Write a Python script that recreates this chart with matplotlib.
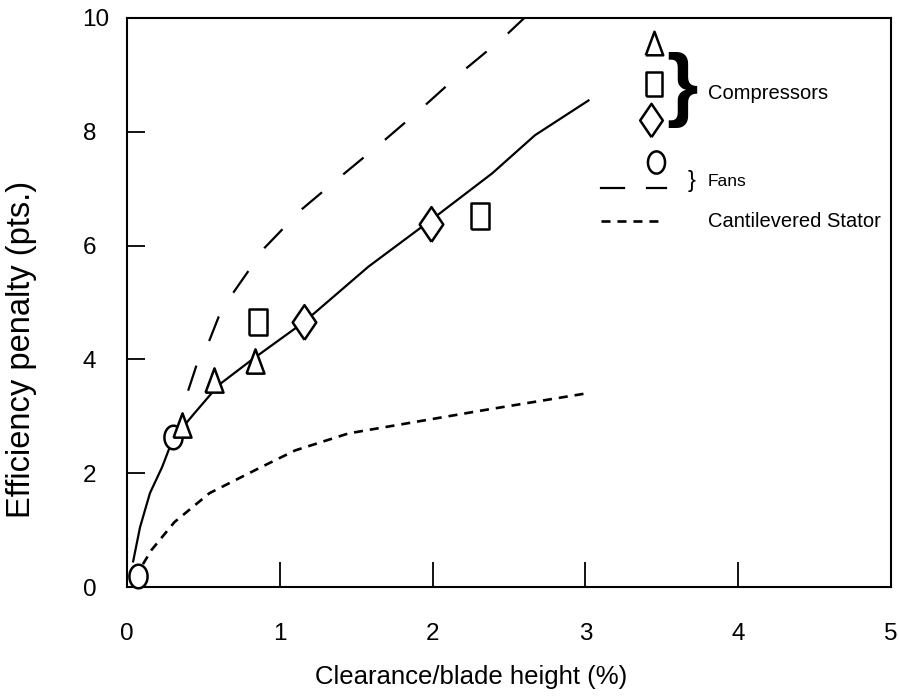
import matplotlib
matplotlib.use("Agg")
import matplotlib.pyplot as plt
import numpy as np

plt.rcParams['font.family'] = ['Liberation Sans', 'DejaVu Sans']
plt.rcParams['lines.scale_dashes'] = False

# measured points
fan_x = [0.07, 0.30]
fan_y = [0.19, 2.63]
tri_x = [0.36, 0.57, 0.84]
tri_y = [2.85, 3.64, 3.98]
sq_x = [0.86, 2.31]
sq_y = [4.65, 6.52]
dia_x = [1.16, 1.99]
dia_y = [4.66, 6.38]

# fitted curves
comp_x = [0.04, 0.085, 0.15, 0.23, 0.30, 0.44, 0.60, 0.82, 1.16, 1.58, 1.99, 2.39, 2.67, 3.02]
comp_y = [0.45, 1.05, 1.65, 2.11, 2.60, 3.05, 3.55, 4.00, 4.66, 5.63, 6.45, 7.27, 7.94, 8.55]
fanline_x = [0.40, 0.46, 0.54, 0.60, 0.70, 0.90, 1.14, 1.41, 1.68, 1.94, 2.20, 2.47, 2.60]
fanline_y = [3.45, 3.94, 4.34, 4.75, 5.19, 5.96, 6.63, 7.24, 7.84, 8.44, 9.07, 9.67, 10.0]
stator_x = [0.05, 0.16, 0.31, 0.54, 0.88, 1.10, 1.45, 2.34, 3.00]
stator_y = [0.16, 0.65, 1.14, 1.65, 2.11, 2.40, 2.70, 3.11, 3.40]

x_ticks = [0, 1, 2, 3, 4, 5]
y_ticks = [0, 2, 4, 6, 8, 10]

# tall, narrow marker shapes
tri_m = [(-0.74, -1), (0.74, -1), (0, 1), (-0.74, -1)]
sq_m = [(-0.68, -1), (0.68, -1), (0.68, 1), (-0.68, 1), (-0.68, -1)]
dia_m = [(0, -1), (0.68, 0), (0, 1), (-0.68, 0), (0, -1)]
t = np.linspace(0, 2 * np.pi, 41)
circ_m = list(zip(0.77 * np.cos(t), np.sin(t)))

long_dash = (0, (19, 20))
short_dash = (0, (6.5, 5))

fig = plt.figure(figsize=(8.99, 6.97), dpi=100)
ax = fig.add_axes([0.1413, 0.1578, 0.8498, 0.8164])

ax.plot(comp_x, comp_y, color='black', lw=1.6, zorder=2)
ax.plot(fanline_x, fanline_y, color='black', lw=1.6, linestyle=long_dash, zorder=2)
ax.plot(stator_x, stator_y, color='black', lw=1.9, linestyle=short_dash, zorder=2)

mk = dict(linestyle='none', markerfacecolor='white', markeredgecolor='black',
          markeredgewidth=1.8, zorder=3, clip_on=False)
ax.plot(fan_x, fan_y, marker=circ_m, markersize=17, **mk)
ax.plot(tri_x, tri_y, marker=tri_m, markersize=17.5, **mk)
ax.plot(sq_x, sq_y, marker=sq_m, markersize=18.5, **mk)
ax.plot(dia_x, dia_y, marker=dia_m, markersize=25, **mk)

ax.set_xlim(0, 5)
ax.set_ylim(0, 10)
ax.set_xticks(x_ticks)
ax.set_yticks(y_ticks)
ax.tick_params(axis='x', direction='in', length=18, width=1.3, pad=26, labelsize=17.5)
ax.tick_params(axis='y', direction='in', length=13, width=1.3, pad=32, labelsize=17.5)
for lbl in ax.get_yticklabels():
    lbl.set_ha('left')
for sp in ax.spines.values():
    sp.set_linewidth(1.5)

ax.set_xlabel('Clearance/blade height (%)', fontsize=18.5, va='center')
ax.xaxis.set_label_coords(0.451, -0.158)
ax.set_ylabel('Efficiency penalty (pts.)', fontsize=23.5, va='center')
ax.yaxis.set_label_coords(-0.138, 0.417)

# hand-drawn key in the upper right
T = ax.transAxes
key = dict(transform=T, **mk)
ax.plot([0.690], [0.956], marker=tri_m, markersize=17, **key)
ax.plot([0.690], [0.884], marker=sq_m, markersize=17.5, **key)
ax.plot([0.686], [0.821], marker=dia_m, markersize=24, **key)
ax.plot([0.693], [0.747], marker=circ_m, markersize=16, **key)
ax.text(0.727, 0.874, '}', transform=T, fontsize=58, fontweight='bold',
        ha='center', va='center')
ax.text(0.760, 0.868, 'Compressors', transform=T, fontsize=14.5, va='center')
ax.text(0.739, 0.714, '}', transform=T, fontsize=17, ha='center', va='center')
ax.text(0.760, 0.712, 'Fans', transform=T, fontsize=12.5, va='center')
ax.plot([0.621, 0.650], [0.701, 0.701], color='black', lw=1.6, transform=T)
ax.plot([0.680, 0.706], [0.701, 0.701], color='black', lw=1.6, transform=T)
ax.plot([0.621, 0.700], [0.643, 0.643], color='black', lw=1.9,
        linestyle=short_dash, transform=T)
ax.text(0.760, 0.643, 'Cantilevered Stator', transform=T, fontsize=14.5, va='center')

fig.savefig('out.png', dpi=100)
